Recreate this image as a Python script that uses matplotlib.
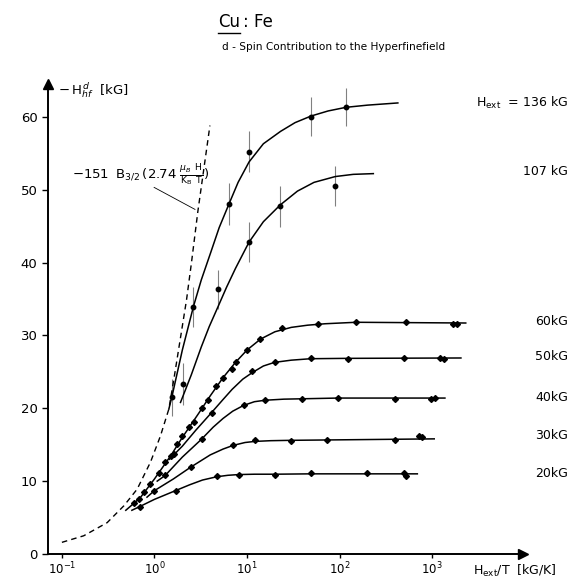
import numpy as np
import matplotlib
matplotlib.use("Agg")
import matplotlib.pyplot as plt
from matplotlib.lines import Line2D
from matplotlib.transforms import IdentityTransform, blended_transform_factory

W, H = 574, 579

# ---- data ----
# 136 kG: points with error bars, and the drawn fit curve
x136 = [1.54, 2.62, 6.36, 10.5, 49, 117]
y136 = [21.5, 33.9, 48.0, 55.2, 60.0, 61.3]
e136 = [2.5, 2.7, 2.9, 2.8, 2.7, 2.6]
cx136 = [1.43, 1.55, 2.0, 2.64, 3.2, 4.03, 5.0, 6.36, 8.0, 10.5, 15, 23.0, 33, 49, 75, 117, 200, 425]
cy136 = [19.9, 21.7, 28.0, 34.0, 37.6, 41.3, 44.8, 48.0, 51.0, 53.8, 56.3, 58.0, 59.2, 60.1, 60.8, 61.3, 61.6, 61.9]

# 107 kG
x107 = [2.04, 4.88, 10.5, 22.8, 89.8]
y107 = [23.3, 36.3, 42.8, 47.7, 50.5]
e107 = [2.9, 2.7, 2.7, 2.85, 2.8]
cx107 = [1.91, 2.5, 3.2, 3.9, 4.88, 6.0, 7.5, 10.5, 15, 22.8, 35, 52.8, 89.8, 140, 231]
cy107 = [20.8, 24.6, 28.4, 31.2, 34.0, 36.6, 39.2, 42.8, 45.6, 47.9, 49.8, 51.0, 51.8, 52.1, 52.2]

# 60 kG
x60 = [0.6, 0.68, 0.77, 0.9, 1.11, 1.31, 1.49, 1.76, 1.99, 2.35, 2.66, 3.22,
       3.8, 4.65, 5.48, 6.8, 7.5, 10.0, 13.8, 24, 58.3, 149, 517, 1660, 1840]
y60 = [7.0, 7.6, 8.45, 9.6, 11.1, 12.6, 13.5, 15.1, 16.2, 17.4, 18.1, 20.1,
       21.2, 23.0, 24.1, 25.4, 26.3, 28.0, 29.5, 31.0, 31.5, 31.8, 31.9, 31.6, 31.5]
cx60 = [0.49, 0.7, 1.0, 1.5, 2.0, 3.0, 4.0, 5.5, 7.5, 10, 14, 20, 30, 45, 70, 150, 2300]
cy60 = [6.0, 7.7, 10.3, 13.5, 16.0, 19.3, 21.7, 24.2, 26.3, 28.0, 29.5, 30.5, 31.1, 31.4, 31.6, 31.8, 31.7]

# 50 kG
x50 = [1.62, 4.13, 11.4, 19.8, 48.6, 122, 496, 1205, 1331]
y50 = [13.7, 19.4, 25.1, 26.3, 26.85, 26.8, 26.85, 26.9, 26.75]
cx50 = [1.45, 2.0, 2.8, 4.13, 5.5, 6.9, 9.0, 11.4, 15, 19.8, 30, 48.6, 122, 2040]
cy50 = [13.0, 14.8, 17.0, 19.4, 21.2, 22.6, 24.0, 24.9, 25.8, 26.3, 26.6, 26.8, 26.85, 26.9]

# 40 kG
x40 = [1.31, 3.22, 9.2, 15.6, 39.1, 95.9, 400, 970, 1064]
y40 = [10.8, 15.75, 20.5, 21.1, 21.3, 21.4, 21.3, 21.3, 21.4]
cx40 = [1.07, 1.31, 2.0, 3.22, 4.3, 5.5, 7.0, 9.2, 12, 15.6, 25, 39.1, 95.9, 1370]
cy40 = [10.0, 10.8, 13.3, 15.75, 17.4, 18.6, 19.6, 20.4, 20.9, 21.1, 21.25, 21.3, 21.4, 21.4]

# 30 kG
x30 = [1.0, 2.45, 7.05, 12.1, 29.8, 72.4, 400, 727, 776]
y30 = [8.7, 11.9, 14.9, 15.65, 15.5, 15.6, 15.65, 16.2, 16.0]
cx30 = [0.83, 1.0, 1.6, 2.45, 4.0, 5.5, 7.05, 9.5, 12.1, 18, 29.8, 72.4, 1050]
cy30 = [7.8, 8.7, 10.3, 11.9, 13.6, 14.4, 14.9, 15.3, 15.45, 15.55, 15.6, 15.65, 15.8]

# 20 kG
x20 = [0.69, 1.69, 4.7, 8.1, 19.8, 48.6, 199, 496, 525]
y20 = [6.5, 8.7, 10.65, 10.9, 10.85, 11.05, 11.05, 11.05, 10.7]
cx20 = [0.57, 0.69, 1.0, 1.69, 2.4, 3.3, 4.7, 6.2, 8.1, 12, 19.8, 48.6, 690]
cy20 = [6.0, 6.5, 7.5, 8.7, 9.5, 10.15, 10.6, 10.8, 10.9, 10.95, 10.95, 11.0, 11.0]

# dashed Brillouin curve
xb = [0.1, 0.172, 0.308, 0.466, 0.65, 0.905, 1.16, 1.43, 1.62, 2.22, 2.51, 2.94, 3.97]
yb = [1.6, 2.5, 4.3, 6.6, 8.9, 12.6, 16.2, 19.9, 24.0, 34.9, 40.0, 47.0, 58.8]

curve_labels = [r"H$_{\mathrm{ext}}$  = 136 kG", "107 kG", "60kG", "50kG", "40kG", "30kG", "20kG"]
curve_label_y = [61.9, 52.5, 31.9, 27.1, 21.5, 16.2, 11.1]

# ---- figure ----
plt.rcParams['font.family'] = 'DejaVu Sans'
fig = plt.figure(figsize=(W / 100, H / 100), dpi=100)
ax = fig.add_axes([48 / W, (H - 554) / H, (523 - 48) / W, (554 - 84) / H])

ax.set_xscale('log')
ax.set_xlim(10 ** -1.15, 10 ** 3.98)
ax.set_ylim(0, 64.5)

# error bars
ax.errorbar(x136, y136, yerr=e136, fmt='none', ecolor='0.5', elinewidth=0.8)
ax.errorbar(x107, y107, yerr=e107, fmt='none', ecolor='0.5', elinewidth=0.8)

# fit curves
for cx, cy in [(cx136, cy136), (cx107, cy107), (cx60, cy60), (cx50, cy50),
               (cx40, cy40), (cx30, cy30), (cx20, cy20)]:
    ax.plot(cx, cy, color='black', lw=1.1)

ax.plot(xb, yb, color='black', lw=1.0, ls=(0, (4, 3)))

# points
ax.plot(x136, y136, 'o', color='black', ms=3.2)
ax.plot(x107, y107, 'o', color='black', ms=3.2)
for px, py in [(x60, y60), (x50, y50), (x40, y40), (x30, y30), (x20, y20)]:
    ax.plot(px, py, 'D', color='black', ms=3)

# leader line for formula
ax.annotate("", xy=(2.92, 47.1), xytext=(0.93, 50.5),
            arrowprops=dict(arrowstyle='-', lw=0.6, color='black'))

# axes style
for s in ['top', 'right']:
    ax.spines[s].set_visible(False)
ax.spines['left'].set_linewidth(1.4)
ax.spines['bottom'].set_linewidth(1.4)
ax.set_yticks([0, 10, 20, 30, 40, 50, 60])
ax.xaxis.set_minor_locator(matplotlib.ticker.NullLocator())
ax.tick_params(axis='y', direction='out', length=4, width=1, labelsize=9.5)
ax.tick_params(axis='x', direction='out', length=3, width=1, labelsize=8.5, pad=1.5)
ax.plot(1, 0, '>', color='black', ms=7, transform=ax.transAxes, clip_on=False)
ax.plot(0, 1, '^', color='black', ms=7, transform=ax.transAxes, clip_on=False)

# right-hand labels
tr = blended_transform_factory(fig.transFigure, ax.transData)
for lab, yy in zip(curve_labels, curve_label_y):
    ax.text(568 / W, yy, lab, transform=tr, ha='right', va='center', fontsize=9)

# axis labels
fig.text(58 / W, 1 - 90 / H, r"$-\,\mathrm{H}^{\,d}_{hf}$  [kG]", ha='left', va='center', fontsize=9.5)
fig.text(473 / W, 1 - 571 / H, r"H$_{\mathrm{ext}}$/T  [kG/K]", ha='left', va='center', fontsize=9)

# formula
fig.text(72 / W, 1 - 175 / H,
         r"$-151\;\;\mathrm{B}_{3/2}\,(2.74\;\frac{\mu_B\;\;\mathrm{H}}{\mathrm{K_B}\;\;\mathrm{T}})$",
         ha='left', va='center', fontsize=9.5)

# title
t_cu = fig.text(218 / W, 1 - 27 / H, "Cu", ha='left', va='baseline', fontsize=12)
fig.text(222 / W, 1 - 50 / H, "d - Spin Contribution to the Hyperfinefield",
         ha='left', va='baseline', fontsize=7.6)
fig.canvas.draw()
r = fig.canvas.get_renderer()
bb = t_cu.get_window_extent(r)
fig.text((bb.x1 + 3) / W, 1 - 27 / H, ": Fe", ha='left', va='baseline', fontsize=12)
fig.add_artist(Line2D([bb.x0, bb.x1], [bb.y0 - 2, bb.y0 - 2], lw=1.0, color='black',
                      transform=IdentityTransform()))

fig.savefig("out.png", dpi=100)
